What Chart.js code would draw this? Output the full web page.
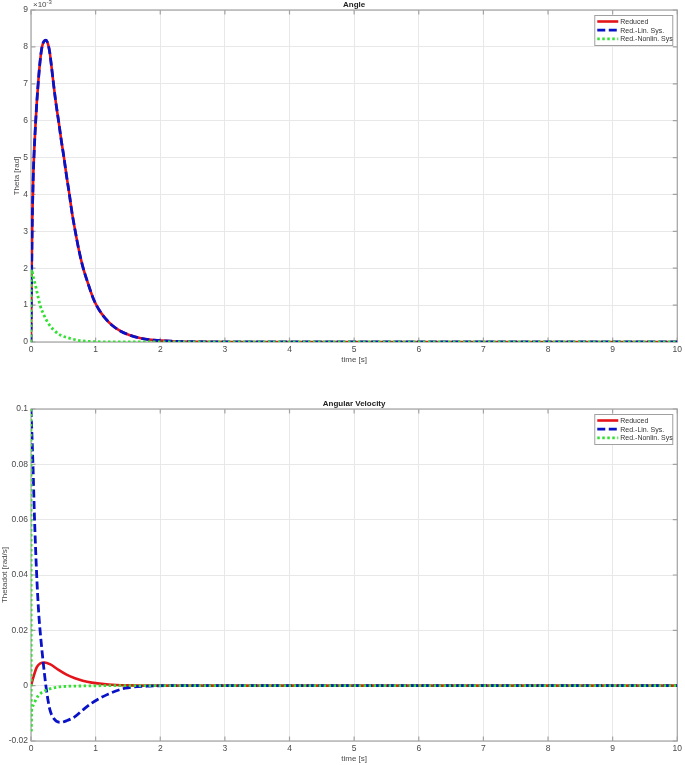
<!DOCTYPE html>
<html>
<head>
<meta charset="utf-8">
<script src="https://cdn.jsdelivr.net/npm/chart.js@4.4.1/dist/chart.umd.min.js"></script>
<style>
  html, body { margin: 0; padding: 0; background: #fff; }
  #wrap { position: relative; width: 685px; height: 765px; }
  canvas { position: absolute; left: 0; }
  #angle { top: 0; }
  #velocity { top: 399px; }
</style>
</head>
<body>
<div id="wrap">
  <canvas id="angle" width="685" height="366"></canvas>
  <canvas id="velocity" width="685" height="366"></canvas>
</div>
<script>
const seriesLabels = ['Reduced', 'Red.-Lin. Sys.', 'Red.-Nonlin. Sys'];

// --- Angle [rad] (top plot) ---
const tAngleReduced = [0, 0.01, 0.02, 0.035, 0.05, 0.07, 0.09, 0.115, 0.14, 0.17, 0.2, 0.23, 0.25, 0.27, 0.29, 0.315, 0.345, 0.38, 0.43, 0.47, 0.51, 0.55, 0.59, 0.635, 0.68, 0.74, 0.8, 0.88, 0.97, 1.05, 1.15, 1.25, 1.38, 1.52, 1.7, 1.9, 2.2, 2.6, 3.2, 10];
const angleReduced  = [0, 0.0019, 0.0033, 0.0045, 0.0052, 0.0059, 0.0065, 0.0071, 0.0076, 0.0080, 0.00815, 0.00818, 0.00814, 0.00803, 0.00785, 0.0075, 0.00705, 0.00655, 0.00595, 0.00545, 0.0050, 0.0045, 0.00405, 0.0035, 0.00305, 0.0025, 0.00205, 0.0016, 0.00115, 0.00088, 0.00064, 0.00046, 0.0003, 0.00019, 0.0001, 0.00005, 0.00002, 0.000007, 0, 0];
const tAngleLin = [0, 0.01, 0.02, 0.035, 0.05, 0.07, 0.09, 0.115, 0.14, 0.17, 0.2, 0.23, 0.25, 0.27, 0.29, 0.315, 0.345, 0.38, 0.43, 0.47, 0.51, 0.55, 0.59, 0.635, 0.68, 0.74, 0.8, 0.88, 0.97, 1.05, 1.15, 1.25, 1.38, 1.52, 1.7, 1.9, 2.2, 2.6, 3.2, 10];
const angleLin  = [0, 0.0019, 0.0033, 0.0045, 0.0052, 0.0059, 0.0065, 0.0071, 0.0076, 0.0080, 0.00815, 0.00818, 0.00814, 0.00803, 0.00785, 0.0075, 0.00705, 0.00655, 0.00595, 0.00545, 0.0050, 0.0045, 0.00405, 0.0035, 0.00305, 0.0025, 0.00205, 0.0016, 0.00115, 0.00088, 0.00064, 0.00046, 0.0003, 0.00019, 0.0001, 0.00005, 0.00002, 0.000007, 0, 0];
const tAngleNonlin = [0, 0.004, 0.01, 0.03, 0.06, 0.1, 0.14, 0.2, 0.27, 0.35, 0.45, 0.58, 0.75, 1.0, 1.3, 10];
const angleNonlin  = [0, 0.0017, 0.00197, 0.0018, 0.0016, 0.0013, 0.0010, 0.00073, 0.0005, 0.00033, 0.00019, 0.00011, 0.00004, 0.00001, 0, 0];

// --- Angular velocity [rad/s] (bottom plot) ---
const tVelReduced = [0, 0.036, 0.088, 0.14, 0.21, 0.3, 0.42, 0.55, 0.68, 0.8, 0.94, 1.2, 1.5, 2, 10];
const velReduced  = [0, 0.0030, 0.0066, 0.0080, 0.0084, 0.0077, 0.0058, 0.0040, 0.0027, 0.0018, 0.0011, 0.0004, 0.0001, 0, 0];
const tVelLin = [0, 0.03, 0.055, 0.088, 0.12, 0.15, 0.175, 0.2, 0.23, 0.26, 0.29, 0.35, 0.45, 0.55, 0.68, 0.8, 0.94, 1.2, 1.46, 1.8, 2.2, 10];
const velLin  = [0.1, 0.08, 0.06, 0.04, 0.026, 0.0175, 0.0115, 0.006, 0, -0.0048, -0.0085, -0.0118, -0.0133, -0.0127, -0.0112, -0.0088, -0.0063, -0.003, -0.0009, -0.0002, 0, 0];
const tVelNonlin = [0, 0.002, 0.004, 0.01, 0.03, 0.06, 0.11, 0.16, 0.22, 0.3, 0.42, 0.6, 0.85, 1.2, 10];
const velNonlin  = [0.1, 0.04, -0.017, -0.0088, -0.0072, -0.0058, -0.0037, -0.0026, -0.0018, -0.0011, -0.0005, -0.0002, -0.0001, 0, 0];

const RED = '#e3141b';
const BLUE = '#0a12c8';
const GREEN = '#33e033';
const TEXT = '#4a4a4a';
const FONT = "'Liberation Sans', Arial, sans-serif";

function pts(t, v) {
    return t.map((x, i) => ({ x: x, y: v[i] }));
}

function makeDatasets(tr, r, tl, l, tn, n) {
    return [
        { label: seriesLabels[0], data: pts(tr, r), borderColor: RED, borderWidth: 2.6, order: 3 },
        { label: seriesLabels[1], data: pts(tl, l), borderColor: BLUE, borderWidth: 2.8, borderDash: [8, 3.5], order: 2 },
        { label: seriesLabels[2], data: pts(tn, n), borderColor: GREEN, borderWidth: 2.8, borderDash: [2.5, 2.5], order: 1 },
    ];
}

// MATLAB style box, inward ticks, legend and title
const matlabAxes = {
    id: 'matlabAxes',
    beforeDatasetsDraw(chart) {
        const { ctx, chartArea: a, scales } = chart;
        ctx.save();
        ctx.strokeStyle = '#a3a3a3';
        ctx.lineWidth = 1.2;
        ctx.strokeRect(a.left, a.top, a.right - a.left, a.bottom - a.top);
        ctx.beginPath();
        scales.x.ticks.forEach(t => {
            const px = scales.x.getPixelForValue(t.value);
            ctx.moveTo(px, a.top); ctx.lineTo(px, a.top + 4.5);
            ctx.moveTo(px, a.bottom); ctx.lineTo(px, a.bottom - 4.5);
        });
        scales.y.ticks.forEach(t => {
            const py = scales.y.getPixelForValue(t.value);
            ctx.moveTo(a.left, py); ctx.lineTo(a.left + 4.5, py);
            ctx.moveTo(a.right, py); ctx.lineTo(a.right - 4.5, py);
        });
        ctx.stroke();
        ctx.restore();
    },
    afterDatasetsDraw(chart) {
        const { ctx, chartArea: a } = chart;
        const x0 = a.right - 83, y0 = a.top + 5, w = 78, h = 30;
        ctx.save();
        ctx.fillStyle = '#fff';
        ctx.fillRect(x0, y0, w, h);
        ctx.strokeStyle = '#a0a0a0';
        ctx.lineWidth = 1;
        ctx.strokeRect(x0 + 0.5, y0 + 0.5, w, h);
        ctx.font = '7px ' + FONT;
        ctx.textBaseline = 'middle';
        chart.data.datasets.forEach((ds, i) => {
            const y = y0 + 6.5 + i * 8.7;
            ctx.beginPath();
            ctx.strokeStyle = ds.borderColor;
            ctx.lineWidth = ds.borderWidth;
            ctx.setLineDash(ds.borderDash || []);
            ctx.moveTo(x0 + 3, y);
            ctx.lineTo(x0 + 24, y);
            ctx.stroke();
            ctx.setLineDash([]);
            ctx.fillStyle = '#333';
            ctx.textAlign = 'left';
            ctx.fillText(ds.label, x0 + 26, y + 0.5);
        });
        ctx.restore();
    },
    afterDraw(chart, args, opts) {
        const { ctx, chartArea: a } = chart;
        ctx.save();
        ctx.fillStyle = '#222';
        ctx.font = 'bold 8px ' + FONT;
        ctx.textAlign = 'center';
        ctx.textBaseline = 'middle';
        ctx.fillText(opts.title, (a.left + a.right) / 2, a.top - 5.5);
        if (opts.exponent) {
            ctx.fillStyle = TEXT;
            ctx.textAlign = 'left';
            ctx.font = '8px ' + FONT;
            ctx.fillText('\u00d710', a.left + 2, a.top - 5);
            const wx = ctx.measureText('\u00d710').width;
            ctx.font = '6px ' + FONT;
            ctx.fillText(opts.exponent, a.left + 2 + wx, a.top - 8);
        }
        ctx.restore();
    }
};

function makeChart(id, datasets, yMin, yMax, yStep, yLabel, yTitlePad, title, exponent, fmt) {
    return new Chart(document.getElementById(id), {
        type: 'line',
        data: { datasets: datasets },
        plugins: [matlabAxes],
        options: {
            responsive: false,
            animation: false,
            devicePixelRatio: 1,
            layout: { padding: { top: 10, right: 5, bottom: 0, left: 0 } },
            elements: {
                point: { radius: 0 },
                line: { cubicInterpolationMode: 'monotone', borderCapStyle: 'butt', fill: false }
            },
            plugins: {
                legend: { display: false },
                tooltip: { enabled: false },
                matlabAxes: { title: title, exponent: exponent }
            },
            scales: {
                x: {
                    type: 'linear',
                    min: 0, max: 10,
                    afterFit: s => { s.height = 24; },
                    ticks: { stepSize: 1, padding: 3, color: TEXT, font: { family: FONT, size: 8.5 }, maxRotation: 0 },
                    grid: { color: '#e8e8e8', drawTicks: false },
                    border: { display: false },
                    title: { display: true, text: 'time [s]', color: TEXT, font: { family: FONT, size: 8 }, padding: { top: 0, bottom: 1 } }
                },
                y: {
                    min: yMin, max: yMax,
                    afterFit: s => { s.width = 31; },
                    ticks: { stepSize: yStep, padding: 3, color: TEXT, font: { family: FONT, size: 8.5 }, callback: fmt },
                    grid: { color: '#e8e8e8', drawTicks: false },
                    border: { display: false },
                    title: { display: true, text: yLabel, color: TEXT, font: { family: FONT, size: 8 }, padding: { top: yTitlePad, bottom: 0 } }
                }
            }
        }
    });
}

makeChart('angle',
    makeDatasets(tAngleReduced, angleReduced, tAngleLin, angleLin, tAngleNonlin, angleNonlin),
    0, 0.009, 0.001, 'Theta [rad]', 12, 'Angle', '-3',
    v => String(Math.round(v * 1000)));

makeChart('velocity',
    makeDatasets(tVelReduced, velReduced, tVelLin, velLin, tVelNonlin, velNonlin),
    -0.02, 0.1, 0.02, 'Thetadot [rad/s]', 0, 'Angular Velocity', null,
    v => String(Number(v.toFixed(3))));
</script>
</body>
</html>
